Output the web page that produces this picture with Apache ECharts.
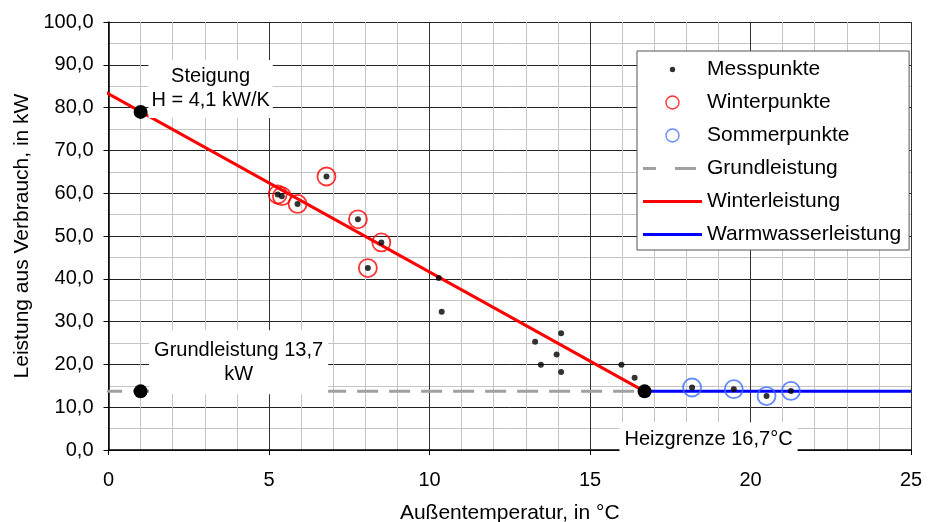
<!DOCTYPE html>
<html>
<head>
<meta charset="utf-8">
<script src="https://cdn.jsdelivr.net/npm/echarts@6/dist/echarts.min.js"></script>
<style>
html,body{margin:0;padding:0;background:#fff;overflow:hidden;}
#chart{width:930px;height:522px;}
</style>
</head>
<body>
<div id="chart"></div>
<script>
// ---- data ----
const messX = [5.27, 5.40, 5.89, 6.79, 7.77, 8.50, 8.08, 10.29, 10.38, 13.29, 14.10, 13.96, 13.47, 14.10, 15.98, 16.39, 18.18, 19.48, 20.50, 21.26];
const messY = [59.7, 59.3, 57.5, 63.9, 53.9, 48.5, 42.5, 40.2, 32.3, 25.3, 27.3, 22.3, 19.9, 18.2, 19.9, 16.9, 14.6, 14.2, 12.6, 13.8];
const winterX = [5.27, 5.40, 5.89, 6.79, 7.77, 8.50, 8.08];
const winterY = [59.7, 59.3, 57.5, 63.9, 53.9, 48.5, 42.5];
const sommerX = [18.18, 19.48, 20.50, 21.26];
const sommerY = [14.6, 14.2, 12.6, 13.8];
const grundX = [-0.23, 16.7];
const grundY = [13.7, 13.7];
const winterLineX = [-0.33, 16.7];
const winterLineY = [84.6, 13.7];
const wwX = [16.7, 25];
const wwY = [13.7, 13.7];
const specX = [1, 1, 16.7];
const specY = [79.0, 13.7, 13.7];
const specLabels = ['Steigung\nH = 4,1 kW/K', 'Grundleistung 13,7\nkW', 'Heizgrenze 16,7°C'];
const seriesNames = ['Messpunkte', 'Winterpunkte', 'Sommerpunkte', 'Grundleistung', 'Winterleistung', 'Warmwasserleistung'];
const xTitle = 'Außentemperatur, in °C';
const yTitle = 'Leistung aus Verbrauch, in kW';

// ---- helpers ----
const zip = (xs, ys) => xs.map((x, i) => [x, ys[i]]);
const FONT = "'Liberation Sans', Arial, sans-serif";
const svgIcon = inner => 'image://data:image/svg+xml;charset=utf-8,' + encodeURIComponent(
  '<svg xmlns="http://www.w3.org/2000/svg" width="59" height="20" viewBox="0 0 59 20">' + inner + '</svg>');
const icons = [
  svgIcon('<circle cx="29.5" cy="10" r="2.7" fill="#000"/>'),
  svgIcon('<circle cx="29.5" cy="10" r="6.5" fill="none" stroke="#ff0000" stroke-width="1.4"/>'),
  svgIcon('<circle cx="29.5" cy="10" r="6.5" fill="none" stroke="#3b6cff" stroke-width="1.4"/>'),
  svgIcon('<rect x="0" y="8.5" width="13" height="3" fill="#a0a0a0"/><rect x="32" y="8.5" width="21" height="3" fill="#a0a0a0"/>'),
  svgIcon('<rect x="0" y="8.5" width="59" height="3" fill="#ff0000"/>'),
  svgIcon('<rect x="0" y="8.5" width="59" height="3" fill="#0000ff"/>')
];
const labelOffsets = [[70, -23], [98, -29], [64, 48]];
const labelPadding = [[3, 3, 7, 3], [7, 5, 9, 5], [1, 5, 9, 5]];

const chart = echarts.init(document.getElementById('chart'), null, {renderer: 'canvas', width: 930, height: 522});
const option = {
  animation: false,
  backgroundColor: '#fff',
  textStyle: {fontFamily: FONT, color: '#000'},
  grid: {left: 108.5, right: 19, top: 22, bottom: 72, containLabel: false, outerBoundsMode: 'none'},
  legend: {
    left: 637, top: 51, orient: 'vertical',
    padding: [8, 8, 5, 6],
    itemWidth: 59, itemHeight: 20, itemGap: 12,
    backgroundColor: '#fff', borderColor: '#555', borderWidth: 1,
    selectedMode: false, z: 10,
    textStyle: {fontFamily: FONT, fontSize: 21, color: '#000'},
    data: seriesNames.map((n, i) => ({name: n, icon: icons[i]}))
  },
  xAxis: {
    type: 'value', min: 0, max: 25, interval: 5,
    name: xTitle, nameLocation: 'middle', nameGap: 53,
    nameTextStyle: {fontFamily: FONT, fontSize: 21, color: '#000'},
    axisLine: {show: true, onZero: false, lineStyle: {color: '#000', width: 1.5}},
    axisTick: {show: true, length: 5, lineStyle: {color: '#000'}},
    axisLabel: {fontFamily: FONT, fontSize: 20, color: '#000', margin: 20},
    splitLine: {show: true, lineStyle: {color: '#333', width: 1}},
    minorTick: {show: false, splitNumber: 5},
    minorSplitLine: {show: true, lineStyle: {color: '#c4c4c4', width: 1}}
  },
  yAxis: {
    type: 'value', min: 0, max: 100, interval: 10,
    name: yTitle, nameLocation: 'middle', nameGap: 76, nameRotate: 90,
    nameTextStyle: {fontFamily: FONT, fontSize: 21, color: '#000'},
    axisLine: {show: true, onZero: false, lineStyle: {color: '#000', width: 1.5}},
    axisTick: {show: true, length: 5, lineStyle: {color: '#000'}},
    axisLabel: {fontFamily: FONT, fontSize: 20, color: '#000', margin: 15,
      formatter: v => v.toFixed(1).replace('.', ',')},
    splitLine: {show: true, lineStyle: {color: '#222', width: 1}},
    minorTick: {show: false, splitNumber: 2},
    minorSplitLine: {show: true, lineStyle: {color: '#c4c4c4', width: 1}}
  },
  series: [
    {
      name: seriesNames[0], type: 'scatter', z: 4,
      symbol: 'circle', symbolSize: 6,
      itemStyle: {color: '#000'},
      data: zip(messX, messY)
    },
    {
      name: seriesNames[1], type: 'scatter', z: 3,
      symbol: 'circle', symbolSize: 18,
      itemStyle: {color: 'rgba(0,0,0,0)', borderColor: '#ff0000', borderWidth: 1.8},
      data: zip(winterX, winterY)
    },
    {
      name: seriesNames[2], type: 'scatter', z: 3,
      symbol: 'circle', symbolSize: 18,
      itemStyle: {color: 'rgba(0,0,0,0)', borderColor: '#3b6cff', borderWidth: 1.8},
      data: zip(sommerX, sommerY)
    },
    {
      name: seriesNames[3], type: 'line', z: 2, clip: false,
      showSymbol: false, symbol: 'none',
      lineStyle: {color: '#a0a0a0', width: 3, type: [21, 11]},
      itemStyle: {color: '#a0a0a0'},
      data: zip(grundX, grundY)
    },
    {
      name: seriesNames[4], type: 'line', z: 2, clip: false,
      showSymbol: false, symbol: 'none',
      lineStyle: {color: '#ff0000', width: 3},
      itemStyle: {color: '#ff0000'},
      data: zip(winterLineX, winterLineY)
    },
    {
      name: seriesNames[5], type: 'line', z: 2, clip: false,
      showSymbol: false, symbol: 'none',
      lineStyle: {color: '#0000ff', width: 3},
      itemStyle: {color: '#0000ff'},
      data: zip(wwX, wwY)
    },
    {
      name: 'Kennpunkte', type: 'scatter', z: 6,
      symbol: 'circle', symbolSize: 14,
      itemStyle: {color: '#000', opacity: 1},
      data: specX.map((x, i) => ({
        value: [x, specY[i]],
        label: {
          show: true, position: 'inside', offset: labelOffsets[i],
          formatter: specLabels[i],
          fontFamily: FONT, fontSize: 20, color: '#000', lineHeight: 24,
          align: 'center', verticalAlign: 'middle',
          backgroundColor: '#fff', padding: labelPadding[i]
        }
      }))
    }
  ]
};
chart.setOption(option);
</script>
</body>
</html>
